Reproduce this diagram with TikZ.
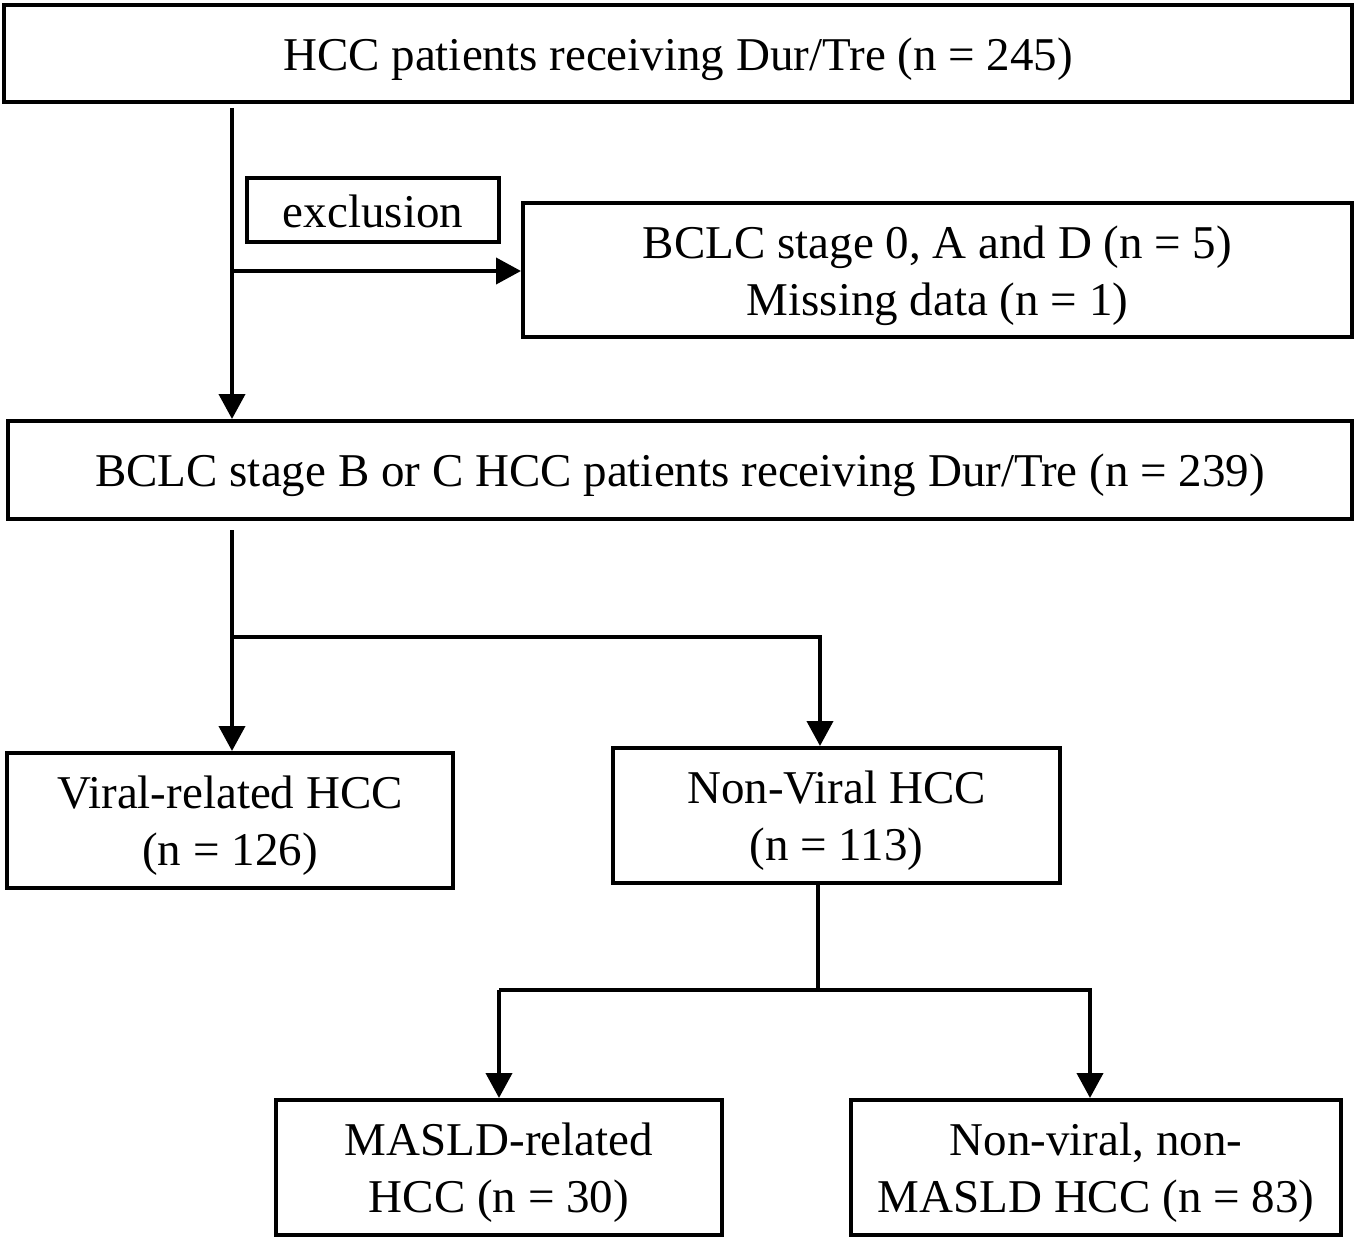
\documentclass[tikz,border=0pt]{standalone}
\usepackage{fontspec}
\setmainfont{Liberation Serif}
\usetikzlibrary{arrows.meta,calc}
\begin{document}
\begin{tikzpicture}[x=1pt,y=-1pt,
  box/.style={draw,line width=4pt,inner sep=0pt},
  txt/.style={font=\fontsize{47}{57}\selectfont,align=center,inner sep=0pt,yshift=-5.5pt},
  arr/.style={line width=4pt,-{Triangle[length=25pt,width=26pt]}},
  ln/.style={line width=4pt}]
\useasboundingbox (0,0) rectangle (1358,1241);
\node[box,minimum width=1348,minimum height=97,label={[txt]center:HCC patients receiving Dur/Tre (n = 245)}] (top) at (678,53.5) {};
\node[box,minimum width=252,minimum height=64,label={[txt,yshift=4.5pt]center:exclusion}] (excl) at (373,210) {};
\node[box,minimum width=829,minimum height=134,label={[txt]center:BCLC stage 0, A and D (n = 5)\\Missing data (n = 1)}] (exbox) at (937.5,270) {};
\node[box,minimum width=1344,minimum height=98,label={[txt]center:BCLC stage B or C HCC patients receiving Dur/Tre (n = 239)}] (bc) at (680,470) {};
\node[box,minimum width=446,minimum height=135,label={[txt]center:Viral-related HCC\\(n = 126)}] (viral) at (230,820.5) {};
\node[box,minimum width=447,minimum height=135,label={[txt]center:Non-Viral HCC\\(n = 113)}] (nonviral) at (836.5,815.5) {};
\node[box,minimum width=446,minimum height=135,label={[txt]center:MASLD-related\\HCC (n = 30)}] (masld) at (499,1167.5) {};
\node[box,minimum width=490,minimum height=135,label={[txt]center:Non-viral, non-\\MASLD HCC (n = 83)}] (nonmasld) at (1096,1167.5) {};
\coordinate (s1) at (232,108);
\coordinate (j1) at (232,271);
\coordinate (s2) at (232,530);
\coordinate (j2) at (232,637);
\coordinate (j3) at (820,637);
\coordinate (j4) at (818,990);
\coordinate (j5) at (499,990);
\coordinate (j6) at (1090,990);
\draw[arr] (s1) -- (bc.north -| s1);
\draw[arr] (j1) -- (exbox.west |- j1);
\draw[arr] (s2) -- (viral.north -| s2);
\draw[arr] (j2) -- (j3) -- (nonviral.north -| j3);
\draw[ln] (nonviral.south -| j4) -- (j4);
\draw[arr] (j5) -- (j6) -- (nonmasld.north -| j6);
\draw[arr] (j5) -- (masld.north -| j5);
\end{tikzpicture}
\end{document}
